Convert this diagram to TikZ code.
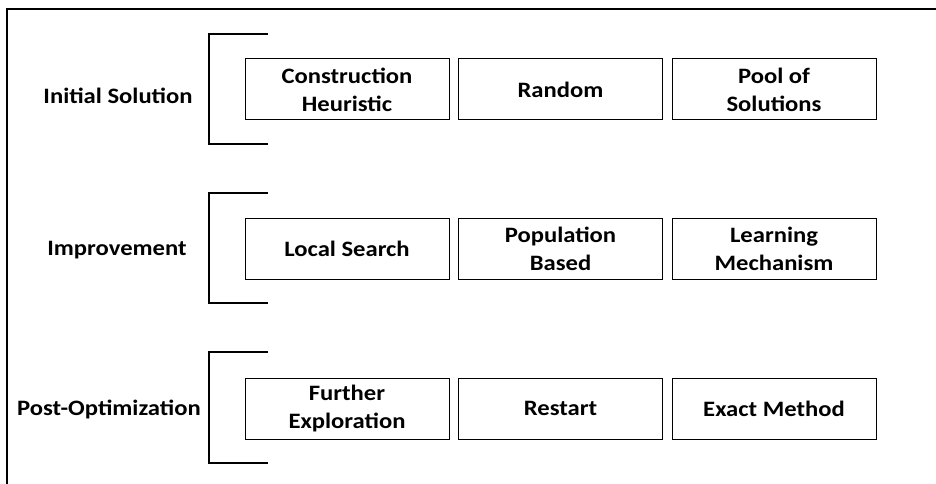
\documentclass[tikz,border=0pt]{standalone}
\usepackage{fontspec}
\setmainfont{Carlito}[FakeStretch=1.12]
\begin{document}
\begin{tikzpicture}[x=1pt,y=-1pt,
  opt/.style={draw=black,line width=1pt,minimum width=204pt,minimum height=61pt,inner sep=0pt,align=center,font=\fontsize{22}{28}\selectfont\bfseries},
  stage/.style={font=\fontsize{22}{28}\selectfont\bfseries,inner sep=0pt},
  brk/.style={line width=1.6pt},
  frame/.style={line width=2pt}]
\useasboundingbox (0,0) rectangle (936,484);
% outer frame (partly cropped)
\coordinate (fA) at (7,500);
\coordinate (fB) at (7,9);
\coordinate (fC) at (950,9);
\draw[frame] (fA) -- (fB) -- (fC);
% stage labels
\node[stage] (s1) at (118,96) {Initial Solution};
\node[stage] (s2) at (117,250) {Improvement};
\node[stage] (s3) at (109,409) {Post-Optimization};
% brackets
\foreach \i/\t/\b in {1/34/144, 2/193/303, 3/352/463}{
  \coordinate (bt\i) at (268,\t);
  \coordinate (bb\i) at (268,\b);
  \draw[brk] (bt\i) -- (209,\t) -- (209,\b) -- (bb\i);
}
% boxes
\node[opt] (a1) at (347,89.5) {Construction\\Heuristic};
\node[opt] (a2) at (560.5,89.5) {Random};
\node[opt] (a3) at (774,89.5) {Pool of\\Solutions};
\node[opt] (b1) at (347,249) {Local Search};
\node[opt] (b2) at (560.5,249) {Population\\Based};
\node[opt] (b3) at (774,249) {Learning\\Mechanism};
\node[opt] (c1) at (347,408.5) {Further\\Exploration};
\node[opt] (c2) at (560.5,408.5) {Restart};
\node[opt] (c3) at (774,408.5) {Exact Method};
\end{tikzpicture}
\end{document}
